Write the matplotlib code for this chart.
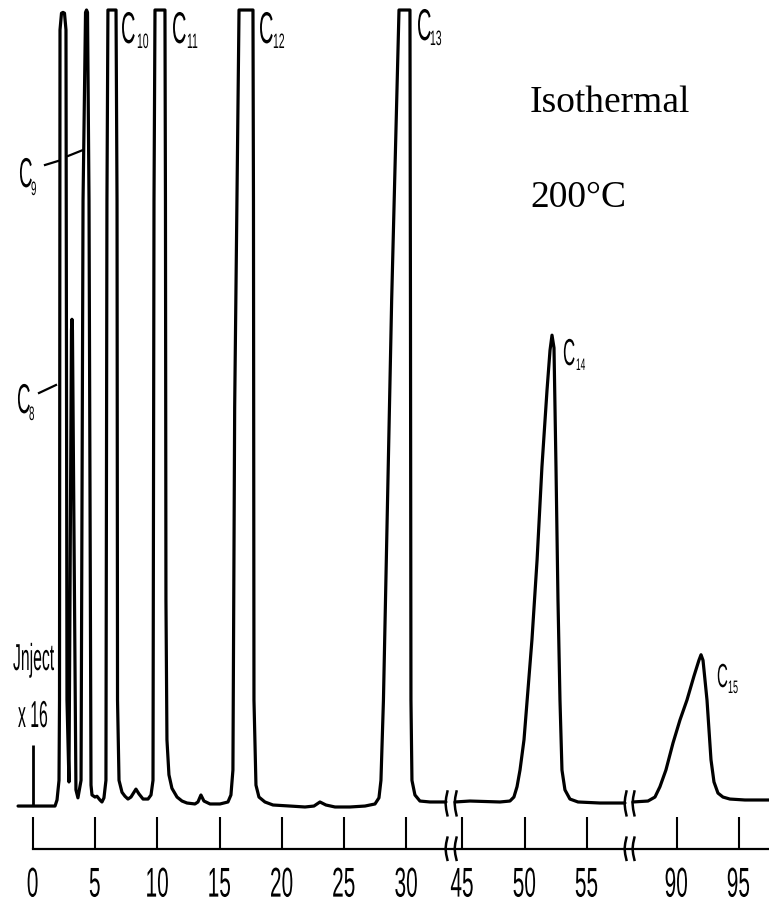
import numpy as np
import matplotlib
matplotlib.use("Agg")
import matplotlib.pyplot as plt
from matplotlib.patheffects import AbstractPathEffect
from matplotlib.transforms import Affine2D

# Gas chromatogram, isothermal 200 C: retention time (min) vs. pen signal (% of full scale)
# segment 1: 0 - 33 min
seg1_time = [-1.20, 1.77, 1.93, 2.09, 2.13, 2.17, 2.29, 2.41, 2.53, 2.65, 2.73, 2.89,
             3.09, 3.13, 3.17, 3.45, 3.61, 3.86, 4.02, 4.22, 4.30, 4.38, 4.50, 4.66,
             4.74, 4.98, 5.14, 5.38, 5.54, 5.70, 5.86, 5.94, 6.02, 6.67, 6.75, 6.79, 6.91,
             7.15, 7.39, 7.63, 7.87, 8.27, 8.51, 8.84, 9.24, 9.48, 9.64, 9.72, 9.80,
             10.60, 10.64, 10.68, 10.76, 10.92, 11.16, 11.57, 11.97, 12.37,
             13.01, 13.25, 13.49, 13.73, 14.22, 15.02, 15.66, 15.90, 16.06, 16.20, 16.55,
             17.67, 17.71, 17.75, 17.91, 18.15, 18.63, 19.28,
             20.64, 21.85, 22.57, 23.05, 23.53, 24.26, 25.46, 26.67, 27.47, 27.79, 27.95,
             28.15, 28.81, 29.40, 30.28, 30.32, 30.36, 30.44, 30.68, 31.08, 31.89, 33.17]
seg1_signal = [-0.13, -0.13, 0.63, 3.1, 13.2, 97.5, 99.6, 99.7, 99.6, 97.5, 13.2, 2.9,
               59.7, 61.1, 59.7, 1.9, 0.9, 3.1, 76, 99.7, 100, 99.7, 76, 2.5,
               1.26, 1.0, 1.1, 0.63, 0.38, 0.9, 3.1, 76, 100, 100, 76, 13.2, 3.1,
               1.6, 1.1, 0.75, 1.0, 2.0, 1.4, 0.75, 0.75, 1.26, 3.1, 76, 100,
               100, 76, 25.8, 8.2, 3.8, 2.1, 1.0, 0.5, 0.25,
               0.13, 0.38, 1.26, 0.5, 0.13, 0.13, 0.38, 1.26, 4.4, 50, 100,
               100, 76, 13.2, 2.5, 1.0, 0.38, 0.0,
               -0.13, -0.25, -0.13, 0.38, 0.0, -0.25, -0.25, -0.13, 0.13, 0.9, 3.1,
               13.2, 63.5, 100, 100, 63.5, 13.2, 3.1, 1.26, 0.5, 0.38, 0.38]

# segment 2: 44 - 58 min (C14)
seg2_time = [44.40, 45.60, 48.01, 48.81, 49.13, 49.38, 49.62, 49.94, 50.26, 50.58, 50.99,
             51.38, 51.79, 52.03, 52.19, 52.35, 52.51, 52.67, 52.83, 52.99, 53.23, 53.63,
             54.28, 56.04, 58.05]
seg2_signal = [0.38, 0.5, 0.38, 0.5, 1.0, 2.3, 4.4, 8.2, 14.5, 20.8, 30.8,
               42.5, 52.2, 57.2, 59.1, 57.5, 42.5, 25.8, 13.2, 4.4, 1.9, 0.75,
               0.38, 0.25, 0.25]

# segment 3: 86 - 97 min (C15)
seg3_time = [86.49, 87.70, 88.26, 88.66, 89.14, 89.71, 90.27, 90.83, 91.39, 91.79,
             91.96, 92.12, 92.44, 92.76, 93.00, 93.32, 93.72, 94.28, 95.49, 97.42]
seg3_signal = [0.38, 0.5, 1.0, 2.3, 4.4, 7.8, 10.7, 13.2, 16.2, 18.2,
               18.9, 18.2, 13.2, 5.7, 2.9, 1.5, 1.0, 0.75, 0.63, 0.63]

tick_times = [0, 5, 10, 15, 20, 25, 30, 45, 50, 55, 90, 95]
tick_labels = [str(t) for t in tick_times]
break_times = [33.17, 44.40, 58.05, 86.49]
inject_height = 7.5
peak_names = ["8", "9", "10", "11", "12", "13", "14", "15"]

# broken time axis: gaps 33.5-44.1 and 58.3-86.3 min are squeezed out
real_knots = [-10, 33.5, 44.1, 58.3, 86.3, 110]
axis_knots = [-10, 33.5, 33.6, 47.8, 48.0, 71.7]


def forward(t):
    return np.interp(np.asarray(t, dtype=float), real_knots, axis_knots)


def inverse(a):
    return np.interp(np.asarray(a, dtype=float), axis_knots, real_knots)


class Squeeze(AbstractPathEffect):
    """Draw text horizontally condensed (the original uses a very narrow typeface)."""

    def __init__(self, sx=0.45, anchor="left"):
        super().__init__()
        self.sx = sx
        self.anchor = anchor

    def draw_path(self, renderer, gc, tpath, affine, rgbFace=None):
        v = tpath.vertices
        x0 = 0.0
        if len(v):
            x0 = v[:, 0].min() if self.anchor == "left" else 0.5 * (v[:, 0].min() + v[:, 0].max())
        sq = Affine2D().translate(-x0, 0).scale(self.sx, 1).translate(x0, 0)
        renderer.draw_path(gc, tpath, sq + affine, rgbFace)


SANS = ["Liberation Sans", "DejaVu Sans"]
SERIF = ["Liberation Serif", "DejaVu Serif"]

W, H = 769, 907
fig = plt.figure(figsize=(W / 100, H / 100), dpi=100)
ax = fig.add_axes([0, 0, 1, 1])
ax.set_xscale("function", functions=(forward, inverse))
ax.set_xlim(-2.65, 97.42)
ax.set_ylim(-12.83, 101.26)


def fxy(x, y):
    # pixel position in the picture -> axes fraction
    return x / W, 1 - y / H


def narrow_text(x, y, s, size, sx=0.45):
    ax.text(*fxy(x, y), s, transform=ax.transAxes, family=SANS, fontsize=size,
            va="baseline", ha="left", path_effects=[Squeeze(sx, "left")])


lw = 2.3
for t, s in [(seg1_time, seg1_signal), (seg2_time, seg2_signal), (seg3_time, seg3_signal)]:
    ax.plot(t, s, color="black", lw=lw, solid_joinstyle="round", solid_capstyle="round")

# inject marker
ax.vlines(0, 0, inject_height, color="black", lw=2)

# break marks on trace and time axis
for bt in break_times:
    for yc, h in [(0.2, 1.5), (-5.5, 1.4)]:
        ys = [yc + h, yc + h * 0.5, yc, yc - h * 0.5, yc - h]
        xs = [bt + 0.12, bt + 0.02, bt - 0.03, bt + 0.02, bt + 0.12]
        ax.plot(xs, ys, color="black", lw=1.8)

# time axis with ticks pointing up
for side in ["top", "right", "left"]:
    ax.spines[side].set_visible(False)
ax.spines["bottom"].set_position(("data", -5.53))
ax.spines["bottom"].set_bounds(0, 97.42)
ax.spines["bottom"].set_linewidth(1.6)
ax.set_yticks([])
ax.set_xticks(tick_times, labels=tick_labels)
ax.xaxis.set_minor_locator(matplotlib.ticker.NullLocator())
ax.tick_params(axis="x", direction="in", length=23, width=1.5, pad=12,
               labelsize=30, labelfontfamily=SANS)
for lbl in ax.get_xticklabels():
    lbl.set_path_effects([Squeeze(0.5, "center")])

# peak labels: "C" with subscript carbon number
# (C left, C baseline, C size, sub left, sub baseline, sub size) in picture pixels
label_px = [(17, 413, 30, 29, 420, 14), (19, 187, 30, 31, 195, 14),
            (121, 43, 32, 137, 48, 15), (172, 43, 32, 187, 48, 15),
            (259, 43, 32, 273, 48, 15), (417, 40, 32, 430, 45, 15),
            (563, 365, 27, 576, 370, 12), (717, 687, 24, 728, 693, 13)]
for name, (x, y, size, xs, ys, ssize) in zip(peak_names, label_px):
    narrow_text(x, y, "C", size)
    narrow_text(xs, ys, name, ssize, 0.5)

# leader lines for C8 and C9
for (x0, y0), (x1, y1) in [((45, 165), (58, 161)), ((68, 156), (83, 150)),
                           ((39, 393), (56, 385))]:
    ax.plot([x0 / W, x1 / W], [1 - y0 / H, 1 - y1 / H], color="black", lw=1.6,
            transform=ax.transAxes)

narrow_text(13, 670, "Jnject", 27, 0.42)
narrow_text(18, 727, "x 16", 27, 0.42)

ax.text(*fxy(530, 112), "Isothermal", transform=ax.transAxes, family=SERIF,
        fontsize=27, va="baseline", ha="left")
ax.text(*fxy(530, 207), "200°C", transform=ax.transAxes, family=SERIF,
        fontsize=27, va="baseline", ha="left")

fig.savefig("out.png", dpi=100, facecolor="white")
